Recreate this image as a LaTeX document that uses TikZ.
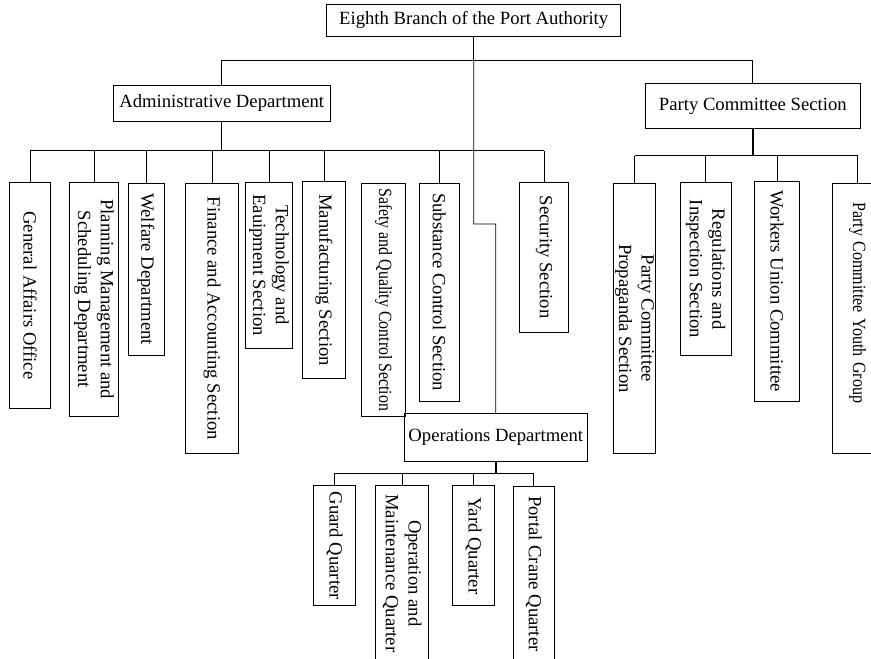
\documentclass[tikz,border=0pt]{standalone}
\usepackage{fontspec}
\setmainfont{Liberation Serif}
\usepackage{graphicx}
\usepackage{tikz}
\usetikzlibrary{positioning}

\begin{document}
\begin{tikzpicture}[x=0.75pt, y=-0.75pt,
        box/.style={draw, line width=0.6pt, inner sep=0pt, align=center, font=\fontsize{14}{17}\selectfont},
        vbox/.style={box, rotate=-90, anchor=west},
        link/.style={line width=0.6pt},
        trunk/.style={line width=1.1pt}]
        \clip (0,0) rectangle (871,658);

        % Top levels
        \node[box, minimum width=294*0.75pt, minimum height=32*0.75pt] (top) at (473.7,20) {Eighth Branch of the Port Authority};
        \node[box, minimum width=216.7*0.75pt, minimum height=36*0.75pt] (adm) at (221.7,103) {Administrative Department};
        \node[box, minimum width=214.3*0.75pt, minimum height=45.4*0.75pt] (pcs) at (752.8,106) {Party Committee Section};
        \node[box, minimum width=183*0.75pt, minimum height=47.7*0.75pt] (ops) at (495.8,437.2) {Operations Department};

        % Trunk lines
        \coordinate (mainbus) at (473.7,60.5);
        \coordinate (jog) at (495.7,224);
        \draw[trunk] (top.south) -- (mainbus);
        \draw[link] (adm.north) |- (mainbus) -| (pcs.north);
        \draw[link] (mainbus) |- (jog) -- (ops.north);

        % Administrative Department sections
        \coordinate (admbus) at (222,150.5);
        \foreach \name/\cx/\top/\len/\wid/\txt in {
            gao/30/181.7/226.6/41.4/{General Affairs Office},
            pms/94/181.7/234.3/49/{Planning Management and\\Scheduling Department},
            wel/146/182.7/172.3/36/{Welfare Department},
            fin/212/182.7/270.6/53.6/{Finance and Accounting Section},
            tec/269/181.7/166/47.6/{Technology and\\Eauipment Section},
            man/324/181/197.3/43/{Manufacturing Section},
            sub/439.3/182.7/218/39.7/{Substance Control Section},
            sec/544/181.7/150/49/{Security Section}} {
            \node[vbox, minimum width=\len*0.75pt, minimum height=\wid*0.75pt] (\name) at (\cx,\top) {\txt};
            \draw[link] (\name.west) -- (\name.west |- admbus);
        }
        \draw[link] (gao.west |- admbus) -- (sec.west |- admbus);
        \draw[trunk] (adm.south) -- (adm.south |- admbus);

        % Safety section (no connector)
        \node[vbox, minimum width=233.3*0.75pt, minimum height=44*0.75pt] (saf) at (383.7,182.7) {\scalebox{0.85}[1]{Safety and Quality Control Section}};

        % Party Committee sections
        \coordinate (pcsbus) at (753,155.5);
        \foreach \name/\cx/\top/\len/\wid/\txt in {
            pro/634.5/182.7/270.6/41.6/{Party Committee\\Propaganda Section},
            reg/705.6/182.3/172.7/50.7/{Regulations and\\Inspection Section},
            wuc/777/181/219.7/44.3/{Workers Union Committee}} {
            \node[vbox, minimum width=\len*0.75pt, minimum height=\wid*0.75pt] (\name) at (\cx,\top) {\txt};
            \draw[link] (\name.west) -- (\name.west |- pcsbus);
        }
        \node[vbox, text width=174pt, align=left, minimum width=270.6*0.75pt, minimum height=49.6*0.75pt] (you) at (857.5,182.7) {\scalebox{0.86}[1]{Party Committee Youth Group}};
        \draw[link] (you.west) -- (you.west |- pcsbus);
        \draw[link] (pro.west |- pcsbus) -- (you.west |- pcsbus);
        \draw[trunk] (pcs.south) -- (pcs.south |- pcsbus);

        % Operations Department quarters
        \coordinate (opsbus) at (495.7,473.3);
        \foreach \name/\cx/\top/\len/\wid/\txt in {
            grd/334.5/485.3/120/41.6/{Guard Quarter},
            oma/402.2/485.3/175/53/{Operation and\\Maintenance Quarter},
            yrd/473.5/485.3/120/41.6/{Yard Quarter},
            pcq/533.8/486/175/40.3/{Portal Crane Quarter}} {
            \node[vbox, minimum width=\len*0.75pt, minimum height=\wid*0.75pt] (\name) at (\cx,\top) {\txt};
            \draw[link] (\name.west) -- (\name.west |- opsbus);
        }
        \draw[link] (grd.west |- opsbus) -- (pcq.west |- opsbus);
        \draw[trunk] (ops.south) -- (ops.south |- opsbus);
    \end{tikzpicture}
\end{document}
